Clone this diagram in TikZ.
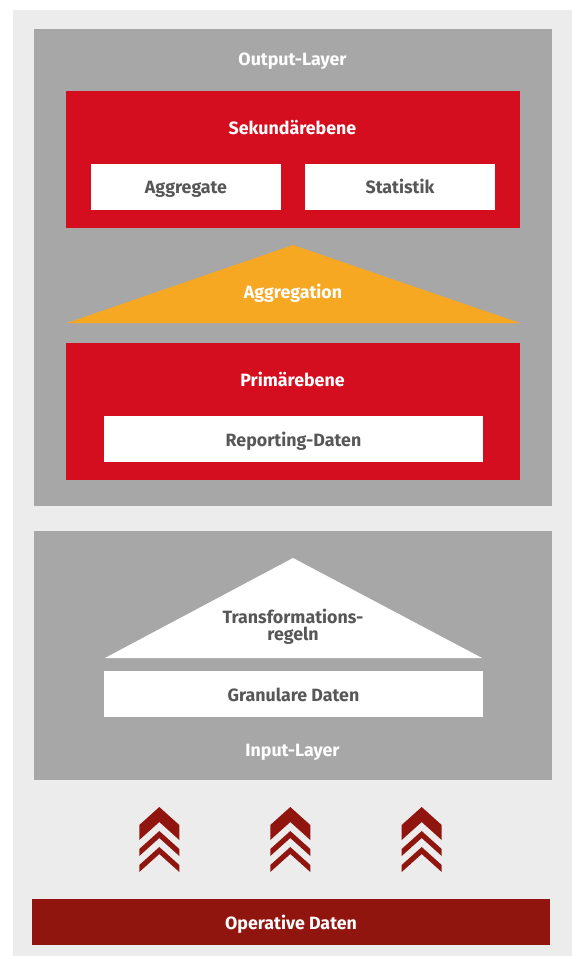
\documentclass[tikz,border=0pt]{standalone}
\usepackage{fontspec}
\setmainfont{Fira Sans}
\definecolor{bglight}{HTML}{ECECEC}
\definecolor{layergray}{HTML}{A7A7A7}
\definecolor{ebred}{HTML}{D40E1E}
\definecolor{aggorange}{HTML}{F7A823}
\definecolor{darkred}{HTML}{91150F}
\definecolor{txtgray}{HTML}{575757}
\begin{document}
\begin{tikzpicture}[x=1pt,y=-1pt,
  rectbox/.style={inner sep=0pt,outer sep=0pt,draw=none,anchor=north west},
  lbl/.style={inner sep=0pt,anchor=base,font=\bfseries\fontsize{17.8}{17.5}\selectfont},
  wlbl/.style={lbl,text=white},
  glbl/.style={lbl,text=txtgray}]
\useasboundingbox (0,0) rectangle (572,956);
\fill[white] (0,0) rectangle (572,956);
% background
\node[rectbox,fill=bglight,minimum width=559pt,minimum height=946pt] (bg) at (13,10) {};
% Output layer
\node[rectbox,fill=layergray,minimum width=518pt,minimum height=477pt] (outlayer) at (34,29) {};
\node[wlbl] (outlbl) at (292.5,65.7) {Output-Layer};
\node[rectbox,fill=ebred,minimum width=454pt,minimum height=137pt] (sek) at (66,91) {};
\node[wlbl] (seklbl) at (292.5,134) {Sekundärebene};
\node[rectbox,fill=white,minimum width=190pt,minimum height=46pt] (aggr) at (91,164) {};
\node[glbl] (aggrlbl) at (186,193) {Aggregate};
\node[rectbox,fill=white,minimum width=190pt,minimum height=46pt] (stat) at (305,164) {};
\node[glbl] (statlbl) at (400,193) {Statistik};
\fill[aggorange] (67,323) coordinate (aggL) -- (293,245) coordinate (aggT) -- (520,323) coordinate (aggR) -- cycle;
\node[wlbl] (agglbl) at (293,298.3) {Aggregation};
\node[rectbox,fill=ebred,minimum width=454pt,minimum height=137pt] (prim) at (66,343) {};
\node[wlbl] (primlbl) at (292.5,386) {Primärebene};
\node[rectbox,fill=white,minimum width=379pt,minimum height=46pt] (rep) at (104,415.5) {};
\node[glbl] (replbl) at (293.5,446) {Reporting-Daten};
% Input layer
\node[rectbox,fill=layergray,minimum width=518pt,minimum height=249pt] (inlayer) at (34,531) {};
\fill[white] (105,658) coordinate (trL) -- (293,558) coordinate (trT) -- (482,658) coordinate (trR) -- cycle;
\node[glbl] (trlbl1) at (293,623.3) {Transformations-};
\node[glbl] (trlbl2) at (293,640.7) {regeln};
\node[rectbox,fill=white,minimum width=379pt,minimum height=46pt] (gran) at (104,671) {};
\node[glbl] (granlbl) at (293.5,701.7) {Granulare Daten};
\node[wlbl] (inlbl) at (292.5,756) {Input-Layer};
% chevrons
\foreach \cx in {159.3,290.3,421.7}{
  \fill[darkred] (\cx-20,825) -- (\cx,807) -- (\cx+20,825) -- (\cx+20,840) -- (\cx,822) -- (\cx-20,840) -- cycle;
  \fill[darkred] (\cx-20,849) -- (\cx,831) -- (\cx+20,849) -- (\cx+20,856) -- (\cx,838) -- (\cx-20,856) -- cycle;
  \fill[darkred] (\cx-20,865) -- (\cx,847) -- (\cx+20,865) -- (\cx+20,872) -- (\cx,854) -- (\cx-20,872) -- cycle;
}
% Operative Daten
\node[rectbox,fill=darkred,minimum width=518pt,minimum height=46pt] (op) at (32,899) {};
\node[wlbl] (oplbl) at (291,929) {Operative Daten};
\end{tikzpicture}
\end{document}
